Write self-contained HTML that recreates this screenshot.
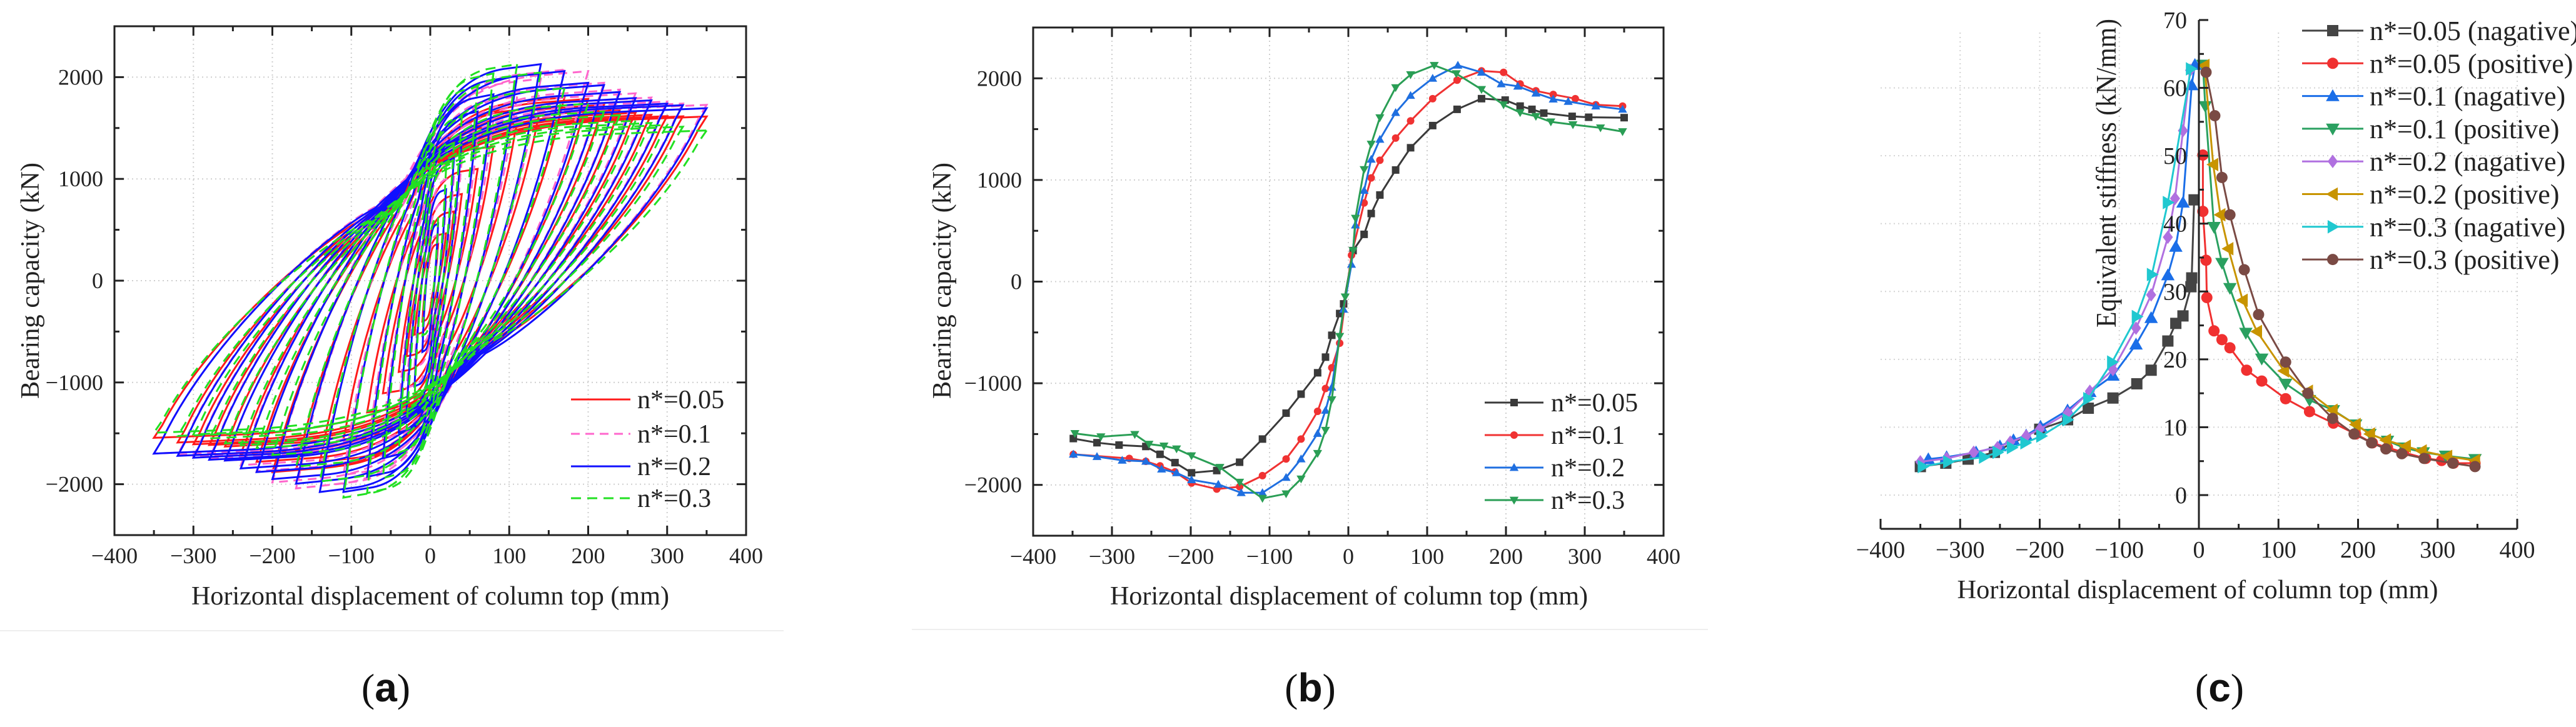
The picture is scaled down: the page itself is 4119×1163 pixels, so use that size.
<!DOCTYPE html>
<html><head><meta charset="utf-8"><title>Hysteresis, skeleton and stiffness curves</title>
<style>
html,body{margin:0;padding:0;background:#fff;}
svg{display:block;font-family:"Liberation Serif",serif;}
</style></head>
<body>
<svg id="fig" width="4119" height="1163" viewBox="0 0 4119 1163" xmlns="http://www.w3.org/2000/svg"></svg>
<script>
// ---------- Panel (a) data: cycle amplitudes and peak loads ----------
const ampA = [10,20,30,40,60,80,110,140,170,200,220,240,260,280,300,320,350];
const a05Pos = [360,465,680,852,1098,1320,1550,1700,1800,1786,1727,1680,1650,1630,1617,1615,1613];
const a05Neg = [-400,-530,-743,-897,-1107,-1294,-1560,-1780,-1860,-1881,-1781,-1699,-1630,-1615,-1608,-1590,-1544];
const a10Pos = [450,774,1020,1194,1412,1581,1810,1985,2073,2059,1945,1877,1841,1800,1760,1740,1727];
const a10Neg = [-606,-847,-1052,-1276,-1549,-1745,-1909,-2018,-2041,-1982,-1872,-1813,-1768,-1745,-1725,-1710,-1699];
const a20Pos = [560,897,1203,1399,1663,1831,2010,2128,2059,1945,1922,1854,1795,1772,1740,1725,1695];
const a20Neg = [-700,-1039,-1267,-1494,-1745,-1927,-2077,-2077,-1995,-1950,-1881,-1845,-1768,-1760,-1740,-1722,-1699];
const a30Pos = [624,1103,1353,1613,1909,2036,2128,2046,1891,1740,1663,1626,1572,1550,1530,1513,1476];
const a30Neg = [-538,-1162,-1462,-1690,-1941,-2087,-2132,-1973,-1827,-1713,-1645,-1617,-1599,-1550,-1510,-1526,-1494];
const legendA = ["n*=0.05","n*=0.1","n*=0.2","n*=0.3"];

// ---------- Panel (b) data: skeleton curves ----------
const b05X = [-349,-319,-291,-257,-239,-220,-199,-167,-138,-109,-79,-60,-39,-29,-21,-11,-6,6,20,29,40,60,79,107,138,169,199,218,233,248,284,305,350];
const b05Y = [-1544,-1585,-1608,-1622,-1699,-1781,-1881,-1859,-1777,-1549,-1294,-1107,-897,-743,-528,-314,-219,305,465,670,852,1098,1317,1535,1695,1800,1786,1727,1695,1658,1626,1617,1613];
const b10X = [-349,-278,-257,-239,-220,-199,-167,-138,-109,-79,-60,-39,-29,-21,-11,4,20,29,40,60,79,107,138,169,197,218,238,260,288,314,348];
const b10Y = [-1699,-1740,-1768,-1813,-1872,-1982,-2041,-2018,-1909,-1745,-1549,-1276,-1052,-847,-606,260,774,1020,1194,1412,1581,1800,1982,2073,2059,1945,1877,1841,1800,1740,1727];
const b20X = [-349,-319,-287,-257,-237,-218,-199,-165,-136,-109,-79,-60,-39,-29,-21,-6,4,9,20,29,40,60,79,107,139,169,194,215,238,260,279,314,348];
const b20Y = [-1699,-1722,-1758,-1768,-1845,-1881,-1950,-1995,-2077,-2077,-1927,-1745,-1494,-1267,-1039,-273,169,556,897,1203,1399,1663,1831,2000,2128,2059,1945,1922,1854,1795,1772,1727,1695];
const b30X = [-347,-314,-271,-253,-234,-218,-199,-163,-138,-109,-79,-60,-39,-29,-21,-11,-4,6,9,20,29,40,60,79,109,137,169,197,218,238,257,285,320,348];
const b30Y = [-1494,-1526,-1503,-1599,-1617,-1645,-1713,-1827,-1973,-2132,-2087,-1941,-1690,-1462,-1162,-538,-150,305,624,1103,1353,1613,1909,2036,2128,2046,1891,1740,1663,1626,1572,1544,1513,1476];
const legendB = ["n*=0.05","n*=0.1","n*=0.2","n*=0.3"];

// ---------- Panel (c) data: equivalent stiffness ----------
const c05nX = [-350,-318,-290,-257,-200,-165,-139,-108,-78,-60,-39,-29,-20,-10,-9,-6];
const c05nY = [4.2,4.7,5.3,6.3,9.7,11.1,12.8,14.3,16.4,18.4,22.7,25.3,26.4,30.7,32,43.5];
const c05pX = [5,5,9,10,19,29,39,60,79,109,139,169,197,218,237,257,285,305,320,347];
const c05pY = [50.1,41.8,34.6,29.1,24.2,22.9,21.7,18.4,16.8,14.2,12.3,10.6,9.0,7.7,7.0,6.3,5.4,5.1,4.7,4.7];
const c10nX = [-340,-317,-280,-250,-233,-217,-199,-165,-137,-108,-79,-60,-39,-29,-20,-9,-5];
const c10nY = [5.3,5.6,6.3,7.2,8.1,8.8,10.1,12.5,15.2,17.6,22.2,26.1,32.4,36.6,43.1,60.4,63.4];
const c10pX = [5,8,19,29,39,59,79,109,139,169,197,215,237,257,282,310,347];
const c10pY = [63.4,57.3,39.5,34.2,30.5,23.9,20.1,16.4,14.0,12.5,10.4,9.0,8.0,7.0,6.3,5.8,5.3];
const c20nX = [-350,-317,-283,-253,-237,-217,-200,-165,-137,-108,-79,-60,-39,-30,-20,-11];
const c20nY = [4.9,5.4,6.3,7.0,7.8,8.7,9.7,12.1,15.3,18.5,24.6,29.5,38.0,43.7,53.7,62.6];
const c20pX = [7,18,27,37,55,73,107,137,168,197,215,235,260,280,312,347];
const c20pY = [63.3,48.7,41.3,36.3,28.7,24.1,18.3,15.3,12.5,10.4,9.0,8.1,7.2,6.5,5.7,5.1];
const c30nX = [-347,-315,-270,-253,-235,-218,-198,-165,-139,-109,-78,-59,-39,-10];
const c30nY = [4.2,4.9,5.6,6.3,7.0,7.7,8.7,11.1,14.2,19.6,26.3,32.5,43.1,62.8];
const c30pX = [9,20,29,39,57,75,109,137,168,195,217,235,255,283,319,347];
const c30pY = [62.3,55.9,46.8,41.3,33.2,26.6,19.6,15.0,11.3,9.0,7.7,6.8,6.1,5.4,4.7,4.2];
const legendC = ["n*=0.05 (nagative)","n*=0.05 (positive)","n*=0.1 (nagative)","n*=0.1 (positive)","n*=0.2 (nagative)","n*=0.2 (positive)","n*=0.3 (nagative)","n*=0.3 (positive)"];
const xTicks = [-400,-300,-200,-100,0,100,200,300,400];
const yTicksAB = [-2000,-1000,0,1000,2000];
const yTicksC = [0,10,20,30,40,50,60,70];

const NS = "http://www.w3.org/2000/svg";
const svg = document.getElementById('fig');
function mk(tag, attrs, parent){
  const e = document.createElementNS(NS, tag);
  for (const k in attrs) e.setAttribute(k, attrs[k]);
  (parent || svg).appendChild(e);
  return e;
}
function lbl(v){ return v < 0 ? "\u2212" + Math.abs(v) : String(v); }
function scale(d0,d1,p0,p1){ return v => p0 + (v-d0)*(p1-p0)/(d1-d0); }

function marker(g, type, x, y, s, color){
  let e;
  if (type === 'square') e = mk('rect',{x:x-s/2,y:y-s/2,width:s,height:s,fill:color},g);
  else if (type === 'circle') e = mk('circle',{cx:x,cy:y,r:s/2,fill:color},g);
  else {
    let p;
    const h = s*0.6;
    if (type==='up') p=[[x,y-h],[x+h,y+h*0.75],[x-h,y+h*0.75]];
    else if (type==='down') p=[[x,y+h],[x+h,y-h*0.75],[x-h,y-h*0.75]];
    else if (type==='left') p=[[x-h,y],[x+h*0.75,y-h],[x+h*0.75,y+h]];
    else if (type==='right') p=[[x+h,y],[x-h*0.75,y-h],[x-h*0.75,y+h]];
    else p=[[x,y-h],[x+h*0.75,y],[x,y+h],[x-h*0.75,y]];
    e = mk('polygon',{points:p.map(q=>q.join(',')).join(' '),fill:color},g);
  }
  
  
  return e;
}

function boxAxes(g, sx, sy, L, R, T, B, ylabX, yTitleX, titleCx){
  for (const v of xTicks){
    if (v===-400||v===400) continue;
    const gl = mk('line',{x1:sx(v),x2:sx(v),y1:T,y2:B,stroke:'#cfcfcf','stroke-width':2,'stroke-dasharray':'2 5'},g);
    
    
  }
  for (const v of yTicksAB){
    const gl = mk('line',{x1:L,x2:R,y1:sy(v),y2:sy(v),stroke:'#cfcfcf','stroke-width':2,'stroke-dasharray':'2 5'},g);
    
    
  }
  for (let v=-400; v<=400; v+=50){
    const len = v%100===0 ? 15 : 8;
    const t1 = mk('line',{x1:sx(v),x2:sx(v),y1:B,y2:B-len,stroke:'#222','stroke-width':3},g);
    
    
    const t2 = mk('line',{x1:sx(v),x2:sx(v),y1:T,y2:T+len,stroke:'#222','stroke-width':3},g);
    
    
  }
  for (let v=-2500; v<=2500; v+=500){
    const len = v%1000===0 ? 15 : 8;
    const t1 = mk('line',{x1:L,x2:L+len,y1:sy(v),y2:sy(v),stroke:'#222','stroke-width':3},g);
    
    
    const t2 = mk('line',{x1:R,x2:R-len,y1:sy(v),y2:sy(v),stroke:'#222','stroke-width':3},g);
    
    
  }
  const box = mk('rect',{x:L,y:T,width:R-L,height:B-T,fill:'none',stroke:'#222','stroke-width':3},g);
  
  
  for (const v of xTicks){
    const t = mk('text',{x:sx(v),y:B+45,'text-anchor':'middle','font-size':36,fill:'#222'},g);
    t.textContent = lbl(v);
    
    
  }
  for (const v of yTicksAB){
    const t = mk('text',{x:ylabX,y:sy(v)+12,'text-anchor':'end','font-size':36,fill:'#222'},g);
    t.textContent = lbl(v);
    
    
  }
  const xt = mk('text',{x:titleCx,y:967,'text-anchor':'middle','font-size':42,fill:'#222',textLength:764,lengthAdjust:'spacingAndGlyphs'},g);
  xt.textContent = 'Horizontal displacement of column top (mm)';
  
  
  const yt = mk('text',{x:0,y:0,'text-anchor':'middle','font-size':42,fill:'#222',textLength:378,lengthAdjust:'spacingAndGlyphs',transform:`translate(${yTitleX},${449}) rotate(-90)`},g);
  yt.textContent = 'Bearing capacity (kN)';
  
  
}

// ---------- Panel (a) ----------
const gA = mk('g',{});


const sxA = scale(-400,400,183,1193), syA = scale(-2500,2500,856,42);
boxAxes(gA, sxA, syA, 183,1193,42,856, 165, 62, 688);

function loopPath(sx, sy, D, Fp, Fn){
  const n = Math.abs(Fn);
  const P = (u,v)=> sx(u).toFixed(1)+','+sy(v).toFixed(1);
  return 'M'+P(D,Fp)+' L'+P(0.97*D,0.92*Fp)+
    ' C'+P(0.8*D,0.35*Fp)+' '+P(0.4*D,-0.25*n)+' '+P(0.2*D,-0.42*n)+
    ' C'+P(0.05*D,-0.65*n)+' '+P(-0.15*D,-0.95*n)+' '+P(-0.7*D,-0.98*n)+
    ' L'+P(-D,Fn)+' L'+P(-0.97*D,-0.92*n)+
    ' C'+P(-0.8*D,-0.35*n)+' '+P(-0.4*D,0.25*Fp)+' '+P(-0.2*D,0.42*Fp)+
    ' C'+P(-0.05*D,0.65*Fp)+' '+P(0.15*D,0.95*Fp)+' '+P(0.7*D,0.98*Fp)+' Z';
}
const seriesA = [
  {pos:a05Pos,neg:a05Neg,color:'#ff1a1a',dash:'none',name:'n005'},
  {pos:a10Pos,neg:a10Neg,color:'#ff66cc',dash:'14 9',name:'n01'},
  {pos:a20Pos,neg:a20Neg,color:'#1010ff',dash:'none',name:'n02'},
  {pos:a30Pos,neg:a30Neg,color:'#22e022',dash:'16 10',name:'n03'}
];
seriesA.forEach((s)=>{
  const sg = mk('g',{},gA);
  
  
  ampA.forEach((D,i)=>{
    const p = mk('path',{d:loopPath(sxA,syA,D,s.pos[i],s.neg[i]),fill:'none',stroke:s.color,'stroke-width':3,'stroke-dasharray':s.dash},sg);
    
    
  });
});
const legA = mk('g',{},gA);


const legYA = [639,694,746,797];
seriesA.forEach((s,i)=>{
  const l = mk('line',{x1:913,x2:1008,y1:legYA[i],y2:legYA[i],stroke:s.color,'stroke-width':3,'stroke-dasharray':s.dash},legA);
  
  
  const t = mk('text',{x:1019,y:legYA[i]+14,'font-size':42,fill:'#222'},legA);
  t.textContent = legendA[i];
  
  
});

// ---------- Panel (b) ----------
const gB = mk('g',{});


const sxB = scale(-400,400,1652,2660), syB = scale(-2500,2500,857,44);
boxAxes(gB, sxB, syB, 1652,2660,44,857, 1634, 1520, 2157);
const seriesB = [
  {x:b05X,y:b05Y,color:'#3a3a3a',m:'square',name:'n005'},
  {x:b10X,y:b10Y,color:'#f03232',m:'circle',name:'n01'},
  {x:b20X,y:b20Y,color:'#1f6fe0',m:'up',name:'n02'},
  {x:b30X,y:b30Y,color:'#2a9e55',m:'down',name:'n03'}
];
seriesB.forEach((s)=>{
  const sg = mk('g',{},gB);
  
  
  const pts = s.x.map((v,i)=>sxB(v).toFixed(1)+','+syB(s.y[i]).toFixed(1)).join(' ');
  const pl = mk('polyline',{points:pts,fill:'none',stroke:s.color,'stroke-width':3},sg);
  
  
  s.x.forEach((v,i)=>marker(sg,s.m,sxB(v),syB(s.y[i]),12,s.color));
});
const legB = mk('g',{},gB);


const legYB = [644,696,748,800];
seriesB.forEach((s,i)=>{
  const l = mk('line',{x1:2374,x2:2468,y1:legYB[i],y2:legYB[i],stroke:s.color,'stroke-width':3},legB);
  
  
  marker(legB,s.m,2421,legYB[i],12,s.color);
  const t = mk('text',{x:2480,y:legYB[i]+14,'font-size':42,fill:'#222'},legB);
  t.textContent = legendB[i];
  
  
});

const sep1 = mk('line',{x1:0,x2:1253,y1:1009,y2:1009,stroke:'#eeeeee','stroke-width':2});


const sep2 = mk('line',{x1:1458,x2:2731,y1:1007,y2:1007,stroke:'#eeeeee','stroke-width':2});



// ---------- Panel (c) ----------
const gC = mk('g',{});


const sxC = scale(-400,400,3007,4025), syC = scale(0,70,792,32);
for (const v of xTicks){
  if (v===-400) continue;
  const gl = mk('line',{x1:sxC(v),x2:sxC(v),y1:52,y2:846,stroke:'#d4d4d4','stroke-width':2,'stroke-dasharray':'2 5'},gC);
  
  
}
for (const v of yTicksC){
  if (v===70) continue;
  const gl = mk('line',{x1:3007,x2:4025,y1:syC(v),y2:syC(v),stroke:'#d4d4d4','stroke-width':2,'stroke-dasharray':'2 5'},gC);
  
  
}
const seriesC = [
  {x:c05nX,y:c05nY,color:'#444444',m:'square',name:'n005-negative'},
  {x:c05pX,y:c05pY,color:'#f03030',m:'circle',name:'n005-positive'},
  {x:c10nX,y:c10nY,color:'#1a6ee8',m:'up',name:'n01-negative'},
  {x:c10pX,y:c10pY,color:'#2aa060',m:'down',name:'n01-positive'},
  {x:c20nX,y:c20nY,color:'#b070e0',m:'diamond',name:'n02-negative'},
  {x:c20pX,y:c20pY,color:'#c89400',m:'left',name:'n02-positive'},
  {x:c30nX,y:c30nY,color:'#20c8d0',m:'right',name:'n03-negative'},
  {x:c30pX,y:c30pY,color:'#7a4a44',m:'circle',name:'n03-positive'}
];
seriesC.forEach((s)=>{
  const sg = mk('g',{},gC);
  
  
  const pts = s.x.map((v,i)=>sxC(v).toFixed(1)+','+syC(s.y[i]).toFixed(1)).join(' ');
  const pl = mk('polyline',{points:pts,fill:'none',stroke:s.color,'stroke-width':3},sg);
  
  
  s.x.forEach((v,i)=>marker(sg,s.m,sxC(v),syC(s.y[i]),18,s.color));
});
const xAx = mk('line',{x1:3007,x2:4025,y1:846,y2:846,stroke:'#222','stroke-width':3},gC);


const yAx = mk('line',{x1:sxC(0),x2:sxC(0),y1:32,y2:846,stroke:'#222','stroke-width':3},gC);


for (let v=-400; v<=400; v+=50){
  const len = v%100===0 ? 16 : 8;
  const t = mk('line',{x1:sxC(v),x2:sxC(v),y1:846,y2:846-len,stroke:'#222','stroke-width':3},gC);
  
  
}
for (let v=0; v<=70; v+=5){
  const len = v%10===0 ? 15 : 8;
  const t = mk('line',{x1:sxC(0),x2:sxC(0)+len,y1:syC(v),y2:syC(v),stroke:'#222','stroke-width':3},gC);
  
  
}
for (const v of xTicks){
  const t = mk('text',{x:sxC(v),y:892,'text-anchor':'middle','font-size':38,fill:'#222'},gC);
  t.textContent = lbl(v);
  
  
}
for (const v of yTicksC){
  const t = mk('text',{x:3497,y:syC(v)+13,'text-anchor':'end','font-size':38,fill:'#222'},gC);
  t.textContent = String(v);
  
  
}
const xtC = mk('text',{x:3514,y:957,'text-anchor':'middle','font-size':42,fill:'#222',textLength:769,lengthAdjust:'spacingAndGlyphs'},gC);
xtC.textContent = 'Horizontal displacement of column top (mm)';


const ytC = mk('text',{x:0,y:0,'text-anchor':'middle','font-size':46,fill:'#222',textLength:494,lengthAdjust:'spacingAndGlyphs',transform:'translate(3383,277) rotate(-90)'},gC);
ytC.textContent = 'Equivalent stiffness (kN/mm)';


const legC = mk('g',{},gC);


seriesC.forEach((s,i)=>{
  const y = 49 + i*52.3;
  const l = mk('line',{x1:3681,x2:3779,y1:y,y2:y,stroke:s.color,'stroke-width':3},legC);
  
  
  marker(legC,s.m,3730,y,18,s.color);
  const t = mk('text',{x:3789,y:y+15,'font-size':44,fill:'#222'},legC);
  t.textContent = legendC[i];
  
  
});

[['(a)',617],['(b)',2095],['(c)',3549]].forEach(([s,x])=>{
  const t = mk('text',{x:x,y:1122,'text-anchor':'middle','font-size':64,fill:'#111'});
  const letter = s.charAt(1);
  const t1 = mk('tspan',{},t); t1.textContent='(';
  const t2 = mk('tspan',{'font-weight':'bold','font-family':'"Liberation Sans",sans-serif'},t); t2.textContent=letter;
  const t3 = mk('tspan',{},t); t3.textContent=')';
  
  
});
</script>
</body></html>
